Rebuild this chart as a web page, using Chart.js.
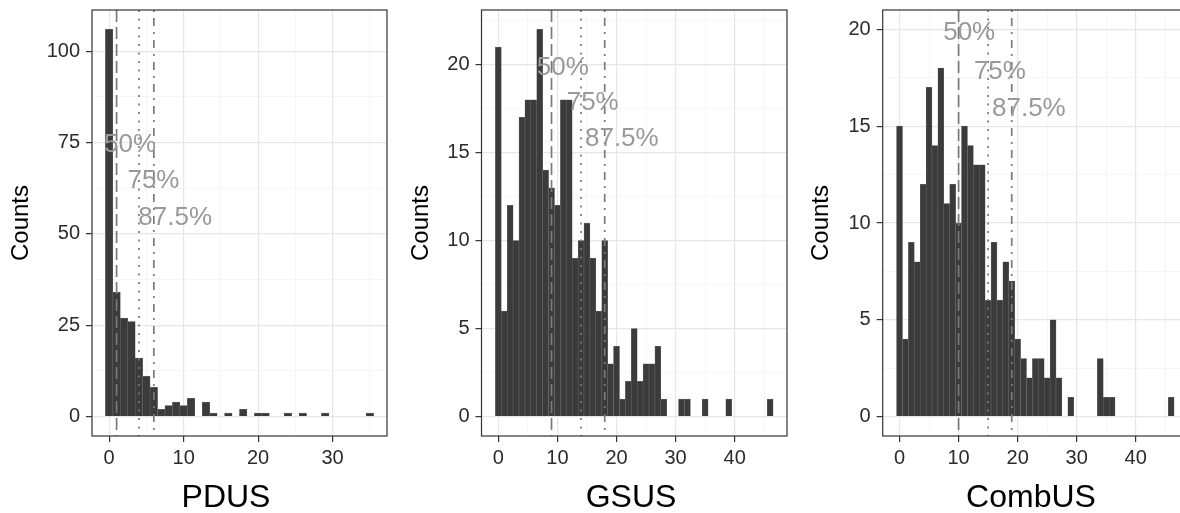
<!DOCTYPE html>
<html>
<head>
<meta charset="utf-8">
<script src="https://cdn.jsdelivr.net/npm/chart.js@4.4.1/dist/chart.umd.min.js"></script>
<style>
  html, body { margin: 0; padding: 0; background: #fff; }
  #wrap { position: relative; width: 1180px; height: 513px; overflow: hidden; }
  canvas { position: absolute; top: 0; }
  .xtitle {
    position: absolute; top: 480px;
    font: 32px/1 "Liberation Sans", Arial, sans-serif;
    color: #000; transform: translateX(-50%); white-space: nowrap;
  }
</style>
</head>
<body>
<div id="wrap">
  <canvas id="c1" width="400" height="513" style="left:0px"></canvas>
  <canvas id="c2" width="400" height="513" style="left:400px"></canvas>
  <canvas id="c3" width="400" height="513" style="left:800px"></canvas>
  <div class="xtitle" style="left:226px">PDUS</div>
  <div class="xtitle" style="left:631px">GSUS</div>
  <div class="xtitle" style="left:1031px">CombUS</div>
</div>
<script>
// counts per integer bin, index = value (0, 1, 2, ...)
const PDUS_COUNTS = [106, 34, 27, 26, 16, 11, 8, 2, 3, 4,
                     3, 5, 0, 4, 1, 0, 1, 0, 2, 0,
                     1, 1, 0, 0, 1, 0, 1, 0, 0, 1,
                     0, 0, 0, 0, 0, 1];
const GSUS_COUNTS = [21, 6, 12, 10, 17, 18, 18, 22, 14, 13,
                     12, 18, 18, 9, 10, 11, 9, 6, 10, 3,
                     4, 1, 2, 5, 2, 3, 3, 4, 1, 0,
                     0, 1, 1, 0, 0, 1, 0, 0, 0, 1,
                     0, 0, 0, 0, 0, 0, 1];
const COMBUS_COUNTS = [15, 4, 9, 8, 12, 17, 14, 18, 11, 12,
                       10, 15, 14, 13, 13, 6, 9, 6, 8, 7,
                       4, 3, 2, 3, 3, 2, 5, 2, 0, 1,
                       0, 0, 0, 0, 3, 1, 1, 0, 0, 0,
                       0, 0, 0, 0, 0, 0, 1];

// quantiles (50%, 75%, 87.5%)
const QUANTILE_LABELS = ['50%', '75%', '87.5%'];
const PDUS_Q = [1, 4, 6];
const GSUS_Q = [9, 14, 18];
const COMBUS_Q = [10, 15, 19];

// where the quantile labels sit (data units)
const PDUS_LABEL_X = [2.8, 5.95, 8.86];
const PDUS_LABEL_Y = [74.3, 64.6, 54.3];
const GSUS_LABEL_X = [10.9, 15.97, 20.9];
const GSUS_LABEL_Y = [19.8, 17.8, 15.8];
const COMBUS_LABEL_X = [11.8, 17.0, 21.9];
const COMBUS_LABEL_Y = [19.8, 17.8, 15.9];

// tick labels
const PDUS_X_TICKS = [0, 10, 20, 30];
const PDUS_X_MINOR = [5, 15, 25, 35];
const PDUS_Y_TICKS = [0, 25, 50, 75, 100];
const PDUS_Y_MINOR = [12.5, 37.5, 62.5, 87.5];
const US_X_TICKS = [0, 10, 20, 30, 40];
const US_X_MINOR = [5, 15, 25, 35, 45];
const US_Y_TICKS = [0, 5, 10, 15, 20];
const GSUS_Y_MINOR = [2.5, 7.5, 12.5, 17.5, 22.5];
const COMBUS_Y_MINOR = [2.5, 7.5, 12.5, 17.5];

const FONT = '"Liberation Sans", Arial, Helvetica, sans-serif';
Chart.defaults.font.family = FONT;

// ggplot line types: longdash, dotted, dotdash
const DASHES = [[12, 5], [2, 6.5], [2, 6, 8, 6]];

const panelDecor = {
  id: 'panelDecor',
  afterDatasetsDraw(chart, args, o) {
    const { ctx, chartArea: a, scales: { x, y } } = chart;
    ctx.save();
    ctx.beginPath();
    ctx.rect(a.left, a.top, a.width, a.height);
    ctx.clip();
    ctx.strokeStyle = '#7a7a7a';
    ctx.lineWidth = 1.7;
    o.quantiles.forEach((q, i) => {
      const px = x.getPixelForValue(q);
      ctx.setLineDash(DASHES[i]);
      ctx.beginPath();
      ctx.moveTo(px, a.top);
      ctx.lineTo(px, a.bottom);
      ctx.stroke();
    });
    ctx.setLineDash([]);
    ctx.font = '26px ' + FONT;
    ctx.fillStyle = '#999999';
    ctx.textAlign = 'center';
    ctx.textBaseline = 'middle';
    QUANTILE_LABELS.forEach((t, i) => {
      ctx.fillText(t, x.getPixelForValue(o.labelX[i]), y.getPixelForValue(o.labelY[i]));
    });
    ctx.restore();
    ctx.save();
    ctx.strokeStyle = '#333';
    ctx.lineWidth = 1.2;
    ctx.strokeRect(a.left, a.top, a.width, a.height);
    ctx.restore();
  }
};

function axisGrid(major) {
  return {
    offset: false,
    color: c => (c.tick && major.includes(c.tick.value)) ? '#e6e6e6' : '#f0f0f0',
    lineWidth: c => (c.tick && major.includes(c.tick.value)) ? 1.2 : 0.6,
    tickColor: c => (c.tick && major.includes(c.tick.value)) ? '#333' : 'rgba(0,0,0,0)',
    tickLength: 6,
    tickWidth: 1.2
  };
}

// no extra room for tick labels: the panel box is fixed by layout padding
function noLabelPadding(ax) {
  ax.paddingTop = 0;
  ax.paddingBottom = 0;
  ax.paddingLeft = 0;
  ax.paddingRight = 0;
}

function makeHist(id, p) {
  const ctx = document.getElementById(id).getContext('2d');
  return new Chart(ctx, {
    type: 'bar',
    data: {
      datasets: [{
        data: p.counts.map((c, i) => ({ x: i, y: c })),
        backgroundColor: '#3b3b3b',
        borderColor: '#6f6f6f',
        borderWidth: 0.5,
        borderSkipped: 'bottom',
        barPercentage: 1,
        categoryPercentage: 1
      }]
    },
    options: {
      responsive: false,
      animation: false,
      devicePixelRatio: 1,
      layout: { padding: { top: 10, left: 0, right: p.right, bottom: 0 } },
      plugins: {
        legend: { display: false },
        tooltip: { enabled: false },
        panelDecor: { quantiles: p.q, labelX: p.labelX, labelY: p.labelY }
      },
      scales: {
        x: {
          type: 'linear',
          min: p.xMin,
          max: p.xMax,
          offset: false,
          afterBuildTicks: ax => {
            ax.ticks = p.xTicks.concat(p.xMinor).sort((a, b) => a - b).map(v => ({ value: v }));
          },
          afterFit: ax => { ax.height = 77; noLabelPadding(ax); },
          grid: axisGrid(p.xTicks),
          border: { display: false },
          ticks: {
            autoSkip: false,
            maxRotation: 0,
            padding: 4,
            color: '#2b2b2b',
            font: { size: 20 },
            callback: v => p.xTicks.includes(v) ? String(v) : ''
          }
        },
        y: {
          min: p.yMin,
          max: p.yMax,
          afterBuildTicks: ax => {
            ax.ticks = p.yTicks.concat(p.yMinor).sort((a, b) => a - b).map(v => ({ value: v }));
          },
          afterFit: ax => { ax.width = p.yWidth; noLabelPadding(ax); },
          grid: axisGrid(p.yTicks),
          border: { display: false },
          title: {
            display: true,
            text: 'Counts',
            color: '#000',
            font: { size: 24 },
            padding: { top: 7, bottom: 0 }
          },
          ticks: {
            autoSkip: false,
            padding: 6,
            color: '#2b2b2b',
            font: { size: 20 },
            callback: v => p.yTicks.includes(v) ? String(v) : ''
          }
        }
      }
    },
    plugins: [panelDecor]
  });
}

makeHist('c1', {
  counts: PDUS_COUNTS, q: PDUS_Q, labelX: PDUS_LABEL_X, labelY: PDUS_LABEL_Y,
  xMin: -2.3, xMax: 37.3, yMin: -5.3, yMax: 111.3,
  xTicks: PDUS_X_TICKS, xMinor: PDUS_X_MINOR, yTicks: PDUS_Y_TICKS, yMinor: PDUS_Y_MINOR,
  yWidth: 92, right: 13
});
makeHist('c2', {
  counts: GSUS_COUNTS, q: GSUS_Q, labelX: GSUS_LABEL_X, labelY: GSUS_LABEL_Y,
  xMin: -2.85, xMax: 48.85, yMin: -1.1, yMax: 23.1,
  xTicks: US_X_TICKS, xMinor: US_X_MINOR, yTicks: US_Y_TICKS, yMinor: GSUS_Y_MINOR,
  yWidth: 81.5, right: 13
});
makeHist('c3', {
  counts: COMBUS_COUNTS, q: COMBUS_Q, labelX: COMBUS_LABEL_X, labelY: COMBUS_LABEL_Y,
  xMin: -2.85, xMax: 48.85, yMin: -1, yMax: 21,
  xTicks: US_X_TICKS, xMinor: US_X_MINOR, yTicks: US_Y_TICKS, yMinor: COMBUS_Y_MINOR,
  yWidth: 82.7, right: 12
});
</script>
</body>
</html>
